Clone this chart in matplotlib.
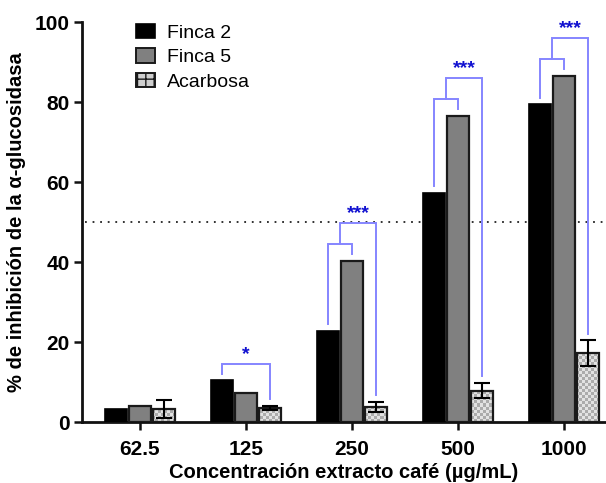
import numpy as np
import matplotlib
matplotlib.use("Agg")
import matplotlib.pyplot as plt
from matplotlib.patches import Patch

plt.rcParams['font.family'] = ['Liberation Sans', 'DejaVu Sans']

# Data
concentrations = ["62.5", "125", "250", "500", "1000"]
finca2 = [3.3, 10.4, 22.8, 57.2, 79.4]
finca5 = [4.0, 7.3, 40.3, 76.5, 86.5]
acarbosa = [3.2, 3.6, 3.8, 7.8, 17.2]
acarbosa_err = [2.3, 0.5, 1.3, 1.9, 3.2]
series_names = ["Finca 2", "Finca 5", "Acarbosa"]
# significance: (group index, stars, compares Finca 2 vs Finca 5 first)
significance = [(1, "*", False), (2, "***", True), (3, "***", True), (4, "***", True)]
threshold = 50

W, H = 606, 483
fig = plt.figure(figsize=(W / 100, H / 100), dpi=100)
ax = fig.add_axes([82 / W, 61 / H, (W - 82) / W, 400 / H])

x = np.arange(len(concentrations))
bw = 0.207
off = 0.223

edge = "#1a1a1a"
ax.bar(x - off, finca2, bw, color="black", edgecolor="black", linewidth=1.2, zorder=3)
ax.bar(x, finca5, bw, color="#808080", edgecolor=edge, linewidth=1.6, zorder=3)
acb = ax.bar(x + off, acarbosa, bw, color="none", edgecolor=edge, linewidth=1.6, zorder=4)

# checkered fill for the reference compound
xlim = (-0.547, 4.396)
ylim = (0, 100)
nx = int((W - 82) / 3)
ny = int(400 / 3)
checker = (np.add.outer(np.arange(ny), np.arange(nx)) % 2).astype(float)
checker_cmap = matplotlib.colors.ListedColormap(["#ababab", "#e2e2e2"])
for rect in acb:
    im = ax.imshow(checker, extent=(xlim[0], xlim[1], ylim[0], ylim[1]),
                   cmap=checker_cmap, interpolation="nearest", aspect="auto",
                   zorder=3.5, origin="lower")
    im.set_clip_path(rect)

ax.errorbar(x + off, acarbosa, yerr=acarbosa_err, fmt="none", ecolor="black",
            elinewidth=1.5, capsize=5.5, capthick=1.5, zorder=5)

# 50 % reference line
ax.axhline(threshold, xmin=0.006, color="#222222", linestyle=(0, (1, 3.2)), linewidth=1.3, zorder=2)

# significance brackets
line_c = "#8585ff"
star_c = "#1010d0"
gap = 1.7
for gi, stars, two_level in significance:
    xa, xb, xc = x[gi] - off, x[gi], x[gi] + off
    a_top = acarbosa[gi] + acarbosa_err[gi] + gap
    if two_level:
        inner = max(finca2[gi], finca5[gi]) + 4.3
        outer = inner + 5.1
        ax.plot([xa, xa, xb, xb], [finca2[gi] + gap, inner, inner, finca5[gi] + gap],
                color=line_c, lw=1.4, zorder=6, solid_joinstyle="miter")
        xm = (xa + xb) / 2
        ax.plot([xm, xm, xc, xc], [inner, outer, outer, a_top],
                color=line_c, lw=1.4, zorder=6, solid_joinstyle="miter")
        sx = (xm + xc) / 2
        sy = outer
    else:
        level = finca2[gi] + 4.1
        ax.plot([xa, xa, xc, xc], [finca2[gi] + gap, level, level, a_top],
                color=line_c, lw=1.4, zorder=6, solid_joinstyle="miter")
        sx = (xa + xc) / 2
        sy = level
    ax.text(sx, sy + 0.3, stars, ha="center", va="bottom", color=star_c,
            fontsize=14, fontweight="bold", zorder=7)

ax.set_xlim(*xlim)
ax.set_ylim(*ylim)
ax.set_xticks(x)
ax.set_xticklabels(concentrations)
ax.set_yticks(np.arange(0, 101, 20))
for s in ("top", "right"):
    ax.spines[s].set_visible(False)
for s in ("left", "bottom"):
    ax.spines[s].set_linewidth(2.0)
    ax.spines[s].set_color("#111111")
ax.tick_params(axis="both", direction="out", length=6, width=1.8, color="#111111",
               labelsize=15)
ax.tick_params(axis="x", pad=7)
ax.tick_params(axis="y", pad=3)
for lab in ax.get_xticklabels() + ax.get_yticklabels():
    lab.set_fontweight("bold")

ax.set_xlabel("Concentración extracto café (µg/mL)", fontsize=14.5, fontweight="bold", labelpad=3)
ax.set_ylabel("% de inhibición de la α-glucosidasa", fontsize=14.5, fontweight="bold", labelpad=6)

# legend
handles = [
    Patch(facecolor="black", edgecolor="black", linewidth=1.2),
    Patch(facecolor="#808080", edgecolor=edge, linewidth=1.4),
    Patch(facecolor="#cfcfcf", edgecolor=edge, linewidth=1.4, hatch="++"),
]
leg = ax.legend(handles, series_names, loc="upper left", bbox_to_anchor=(0.103, 0.995),
                frameon=False, fontsize=14, handlelength=1.0, handleheight=0.75,
                handletextpad=0.6, labelspacing=0.33, borderpad=0, borderaxespad=0)

fig.savefig("out.png", dpi=100)
